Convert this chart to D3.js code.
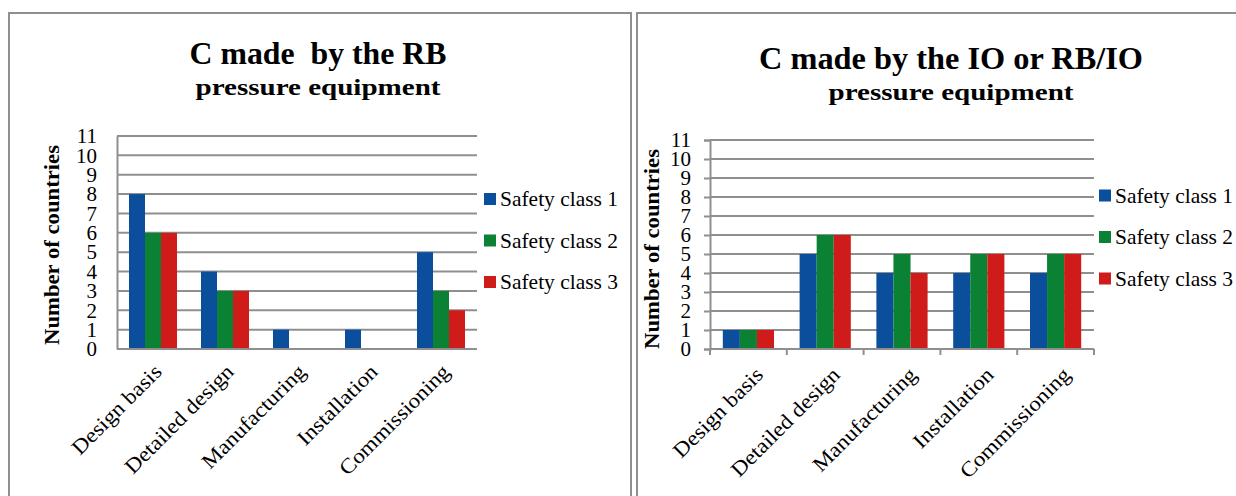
<!DOCTYPE html>
<html>
<head>
<meta charset="utf-8">
<script src="https://cdn.jsdelivr.net/npm/d3@7"></script>
<style>
  html, body { margin: 0; padding: 0; background: #fff; }
  svg { display: block; }
  text { font-family: "Liberation Serif", "DejaVu Serif", serif; fill: #000; white-space: pre; }
</style>
</head>
<body>
<svg id="chart" width="1236" height="496"></svg>
<script>
// Stages of the assessment and the three safety classes
const categories = ["Design basis", "Detailed design", "Manufacturing", "Installation", "Commissioning"];
const seriesNames = ["Safety class 1", "Safety class 2", "Safety class 3"];
const seriesColors = ["#0b4f9c", "#0a8133", "#d01b1b"];
const yTicks = [0, 1, 2, 3, 4, 5, 6, 7, 8, 9, 10, 11];

// Countries where the conformity assessment is made by the RB
const rbClass1 = [8, 4, 1, 1, 5];
const rbClass2 = [6, 3, 0, 0, 3];
const rbClass3 = [6, 3, 0, 0, 2];

// Countries where it is made by the IO or jointly by the RB/IO
const ioClass1 = [1, 5, 4, 4, 4];
const ioClass2 = [1, 6, 5, 5, 5];
const ioClass3 = [1, 6, 4, 5, 5];

const svg = d3.select("#chart");
const gridColor = "#8f8f8f";

function drawPanel(cfg) {
  const g = svg.append("g");

  // frame
  g.append("rect")
    .attr("x", cfg.frame[0]).attr("y", cfg.frame[1])
    .attr("width", cfg.frame[2]).attr("height", cfg.frame[3])
    .attr("fill", "none").attr("stroke", gridColor).attr("stroke-width", 2);

  // titles
  g.append("text")
    .attr("x", cfg.titleX).attr("y", cfg.titleY)
    .attr("text-anchor", "middle")
    .attr("font-weight", "bold").attr("font-size", 31)
    .attr("textLength", cfg.titleLen).attr("lengthAdjust", "spacingAndGlyphs")
    .text(cfg.title);
  g.append("text")
    .attr("x", cfg.titleX).attr("y", cfg.subY)
    .attr("text-anchor", "middle")
    .attr("font-weight", "bold").attr("font-size", 24)
    .attr("textLength", cfg.subLen).attr("lengthAdjust", "spacingAndGlyphs")
    .text("pressure equipment");

  const x0 = d3.scaleBand().domain(categories).range([cfg.left, cfg.right]).paddingInner(1 / 3).paddingOuter(1 / 6);
  const x1 = d3.scaleBand().domain(seriesNames).range([0, x0.bandwidth()]);
  const y = d3.scaleLinear().domain([0, 11]).range([cfg.bottom, cfg.top]);

  // horizontal gridlines
  g.append("g").selectAll("line").data(yTicks.filter(d => d > 0)).join("line")
    .attr("x1", cfg.left).attr("x2", cfg.right)
    .attr("y1", d => y(d)).attr("y2", d => y(d))
    .attr("stroke", gridColor).attr("stroke-width", 2);

  // bars
  const series = cfg.values.map((vals, i) => ({ name: seriesNames[i], color: seriesColors[i], vals }));
  const groups = g.append("g").selectAll("g").data(categories).join("g")
    .attr("transform", d => `translate(${x0(d)},0)`);
  groups.selectAll("rect")
    .data((c, ci) => series.map(s => ({ name: s.name, color: s.color, v: s.vals[ci] })))
    .join("rect")
    .attr("x", d => x1(d.name))
    .attr("width", x1.bandwidth())
    .attr("y", d => y(d.v))
    .attr("height", d => y(0) - y(d.v))
    .attr("fill", d => d.color);

  // y axis
  const yAxis = d3.axisLeft(y).tickValues(yTicks).tickSize(cfg.ticks ? 6 : 0).tickPadding(cfg.ticks ? 13 : 20);
  const ya = g.append("g").attr("transform", `translate(${cfg.left},0)`).call(yAxis);
  ya.select(".domain").attr("stroke", gridColor).attr("stroke-width", 2);
  ya.selectAll(".tick line").attr("stroke", gridColor).attr("stroke-width", 2);
  ya.selectAll(".tick text").attr("font-size", 21).attr("font-family", "Liberation Serif").attr("fill", "#000");

  // x axis
  const xa = g.append("g").attr("transform", `translate(0,${cfg.bottom})`);
  xa.append("line").attr("x1", cfg.left).attr("x2", cfg.right)
    .attr("stroke", gridColor).attr("stroke-width", 2);
  if (cfg.ticks) {
    const step = x0.step();
    xa.selectAll("line.tk").data(d3.range(categories.length + 1)).join("line")
      .attr("class", "tk")
      .attr("x1", i => cfg.left + i * step).attr("x2", i => cfg.left + i * step)
      .attr("y1", 0).attr("y2", 6)
      .attr("stroke", gridColor).attr("stroke-width", 2);
  }
  xa.selectAll("text.cat").data(categories).join("text")
    .attr("class", "cat")
    .attr("font-size", 21)
    .attr("text-anchor", "end")
    .attr("transform", d => `translate(${x0(d) + x0.bandwidth() / 2 + cfg.catDx},${cfg.catDy}) rotate(-45)`)
    .text(d => d)
    .each(function () {
      const w = this.getComputedTextLength();
      d3.select(this).attr("textLength", w * 1.1).attr("lengthAdjust", "spacingAndGlyphs");
    });

  // y axis title
  g.append("text")
    .attr("transform", `translate(${cfg.yTitleX},${cfg.yTitleY}) rotate(-90)`)
    .attr("text-anchor", "middle")
    .attr("font-weight", "bold").attr("font-size", 21)
    .attr("textLength", 200).attr("lengthAdjust", "spacingAndGlyphs")
    .text("Number of countries");

  // legend
  const lg = g.append("g").selectAll("g").data(series).join("g")
    .attr("transform", (d, i) => `translate(${cfg.legX},${cfg.legY + i * 41.5})`);
  lg.append("rect").attr("x", 0).attr("y", -6).attr("width", 12).attr("height", 12).attr("fill", d => d.color);
  lg.append("text").attr("x", 16).attr("y", 7).attr("font-size", 21)
    .attr("textLength", 118).attr("lengthAdjust", "spacingAndGlyphs")
    .text(d => d.name);
}

drawPanel({
  frame: [9, 13, 622, 520],
  title: "C made  by the RB", titleX: 318, titleY: 64, titleLen: 257, subY: 95, subLen: 245,
  left: 117, right: 477, top: 136, bottom: 349,
  values: [rbClass1, rbClass2, rbClass3],
  ticks: false, catDx: 10, catDy: 24,
  yTitleX: 59, yTitleY: 245,
  legX: 484, legY: 199
});

drawPanel({
  frame: [637, 13, 640, 520],
  title: "C made by the IO or RB/IO", titleX: 951, titleY: 69, titleLen: 384, subY: 100, subLen: 245,
  left: 710, right: 1094, top: 140, bottom: 349,
  values: [ioClass1, ioClass2, ioClass3],
  ticks: true, catDx: 16, catDy: 27,
  yTitleX: 659, yTitleY: 249,
  legX: 1099, legY: 195.5
});
</script>
</body>
</html>
